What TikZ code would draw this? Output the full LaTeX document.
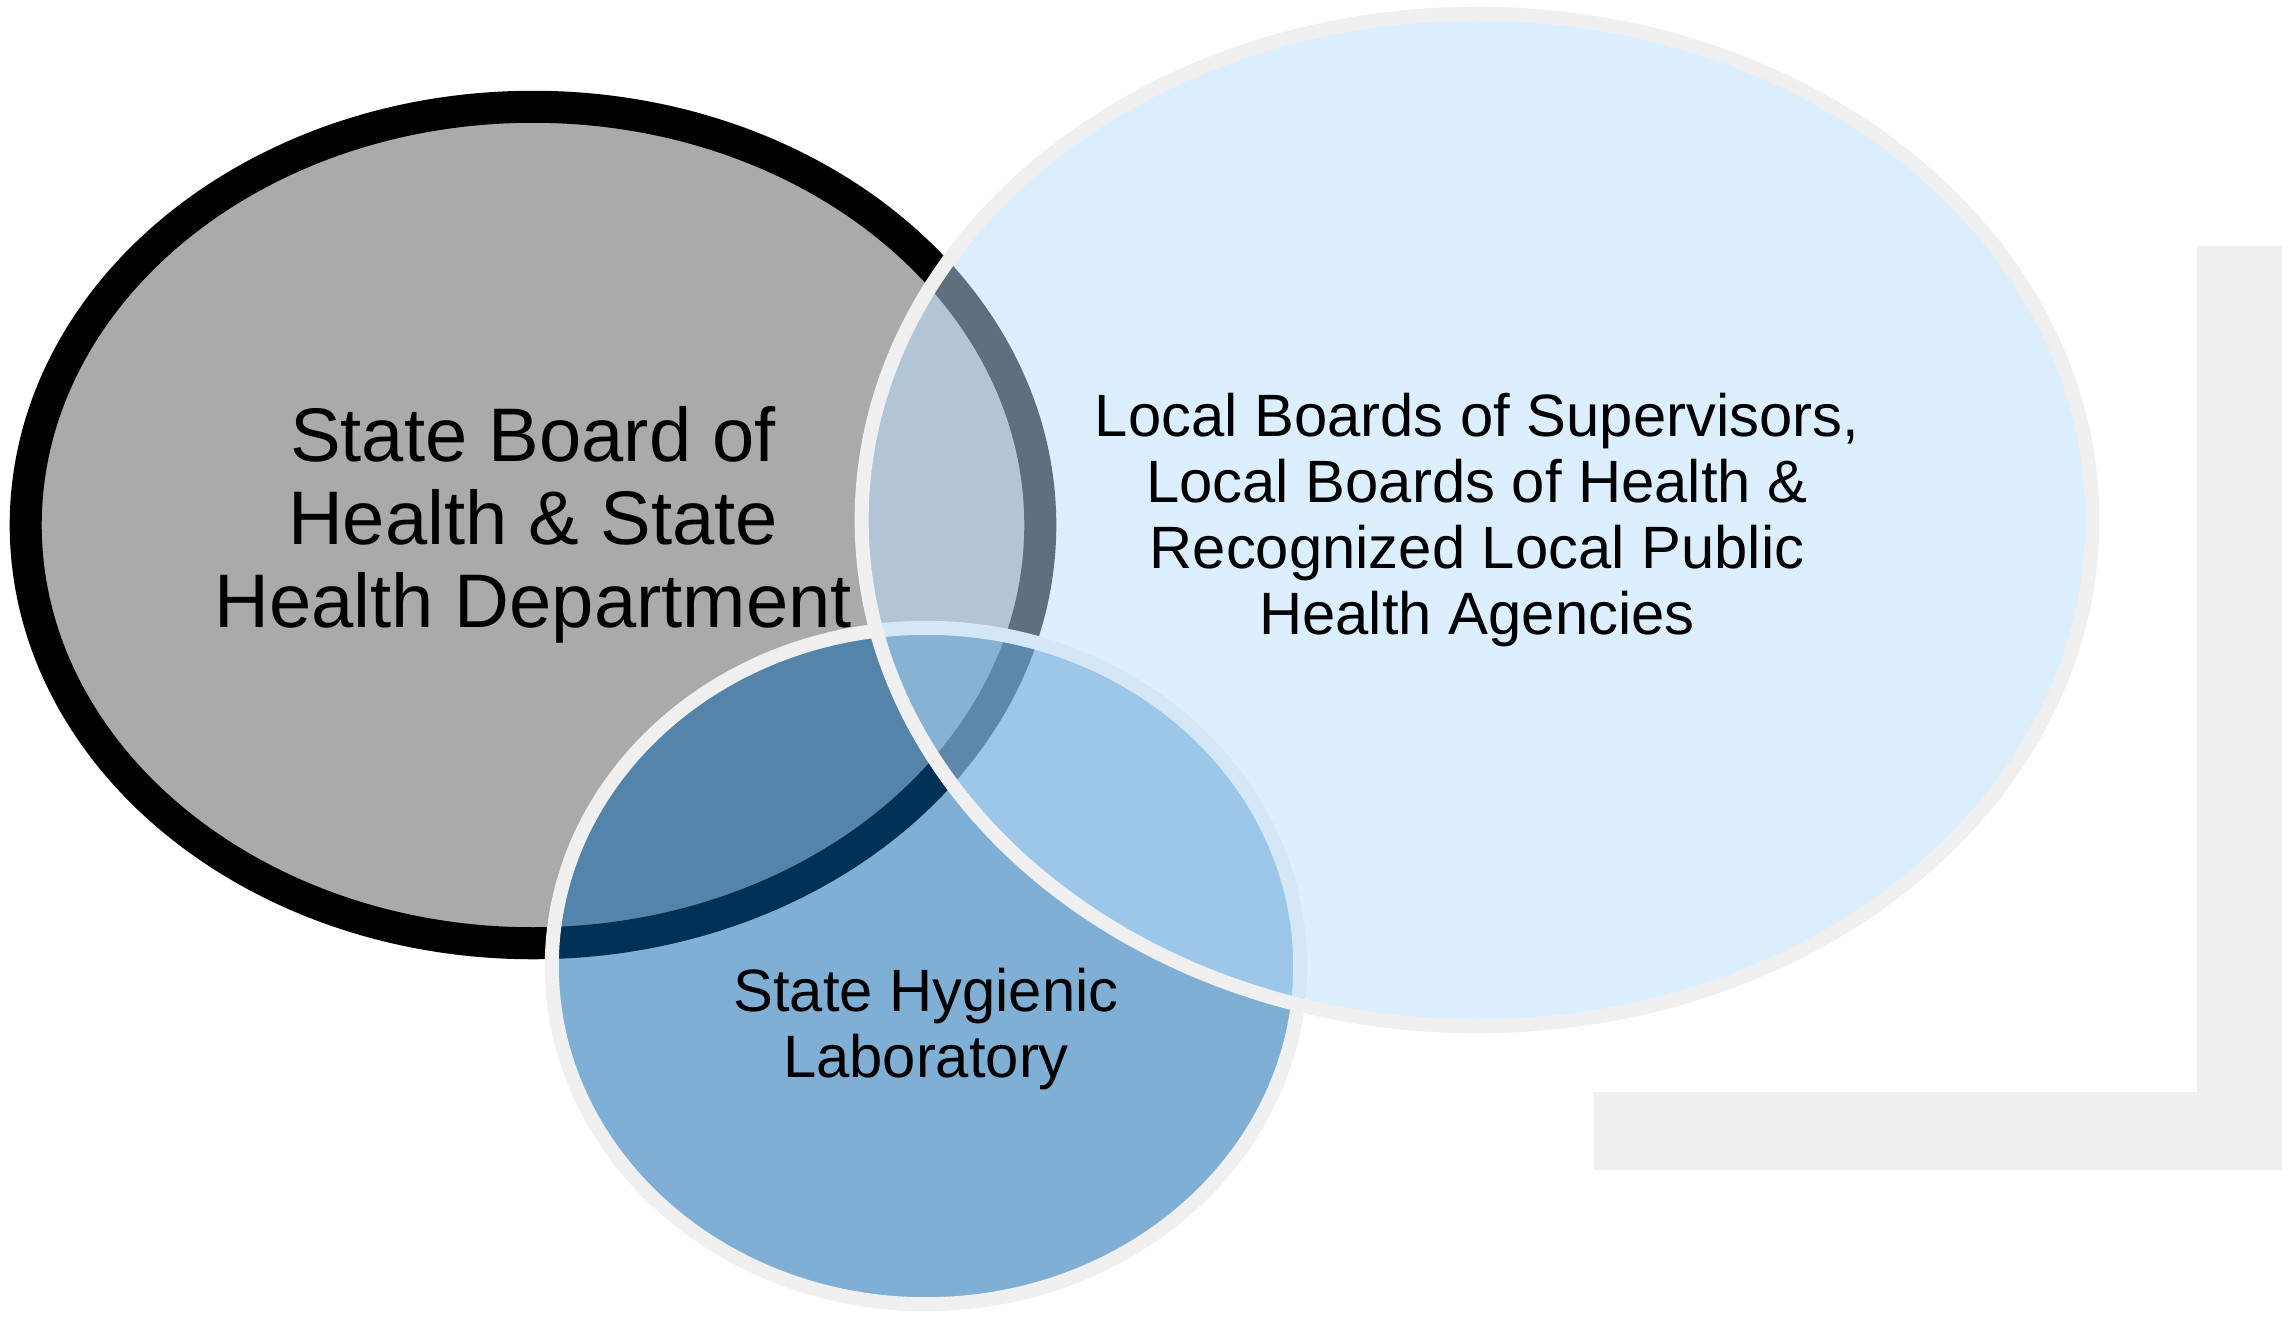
\documentclass[tikz,border=0pt]{standalone}
\usepackage{fontspec}
\setmainfont{Liberation Sans}
\usetikzlibrary{shapes.geometric}

\definecolor{boardgray}{RGB}{170,170,170}
\definecolor{ringgray}{RGB}{240,240,240}
\definecolor{labblue}{RGB}{0,96,170}
\definecolor{localblue}{RGB}{186,224,255}

\begin{document}
\begin{tikzpicture}[x=0.01cm, y=-0.01cm,
	stateoval/.style={draw=black, line width=0.32cm, fill=boardgray,
		font=\fontsize{21.6}{23.6}\selectfont},
	laboval/.style={draw=ringgray, line width=0.14cm, fill=labblue,
		fill opacity=0.5, text opacity=1},
	localoval/.style={draw=ringgray, line width=0.14cm, fill=localblue,
		fill opacity=0.5, text opacity=1, font=\fontsize{17}{18.8}\selectfont}
]

% Keep the frame of the original picture
\useasboundingbox (0,0) rectangle (2290,1317);

% Corner bracket behind the ovals
\fill[ringgray] (1594,1092) -- (2197,1092) -- (2197,246) -- (2282,246)
	-- (2282,1170) -- (1594,1170) -- cycle;

% Ovals
\newcommand{\vblob}[6]{
	\node[ellipse, #3, inner sep=0pt, outer sep=0pt, align=center,
		minimum width=#4, minimum height=#5]
		(#1) at (#2) {#6}
	;
}
\vblob  {state}  {533,525}   {stateoval}  {10.14cm}  {8.36cm}
	{State Board of\\Health \& State\\Health Department}
\vblob  {lab}    {926,966}   {laboval}    {7.48cm}   {6.76cm}   {}
\vblob  {local}  {1477,520}  {localoval}  {12.30cm}  {10.12cm}
	{Local Boards of Supervisors,\\Local Boards of Health \&\\Recognized Local Public\\Health Agencies}

% Label of the lower oval, a bit under its middle
\node[align=center, font=\fontsize{17}{18.6}\selectfont]
	(labtext) at (926,1029) {State Hygienic\\Laboratory};
\end{tikzpicture}
\end{document}
